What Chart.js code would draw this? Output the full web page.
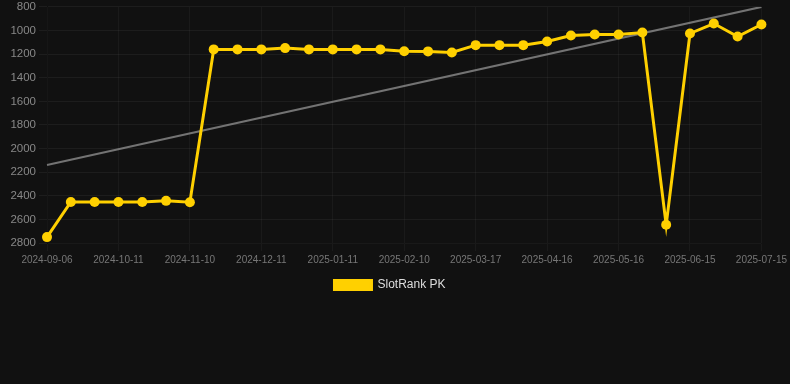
<!DOCTYPE html>
<html>
<head>
<meta charset="utf-8">
<script src="https://cdn.jsdelivr.net/npm/chart.js@4/dist/chart.umd.min.js"></script>
<style>
  html, body { margin: 0; padding: 0; background: #111111; overflow: hidden; }
  #wrap { width: 790px; height: 304px; position: relative; margin-top: -3px; }
</style>
</head>
<body>
<div id="wrap"><canvas id="chart"></canvas></div>
<script>
const dates = [
  "2024-09-06", "2024-09-18", "2024-09-30", "2024-10-11", "2024-10-21", "2024-10-31",
  "2024-11-10", "2024-11-20", "2024-12-01", "2024-12-11", "2024-12-21", "2025-01-01",
  "2025-01-11", "2025-01-21", "2025-01-31", "2025-02-10", "2025-02-22", "2025-03-06",
  "2025-03-17", "2025-03-27", "2025-04-06", "2025-04-16", "2025-04-26", "2025-05-06",
  "2025-05-16", "2025-05-26", "2025-06-05", "2025-06-15", "2025-06-25", "2025-07-05",
  "2025-07-15"
];

const rankPK = [
  2750, 2452, 2452, 2452, 2452, 2443, 2455, 1160, 1160, 1160, 1149, 1160,
  1160, 1160, 1160, 1175, 1177, 1186, 1124, 1124, 1124, 1093, 1042, 1034,
  1034, 1017, 2646, 1025, 941, 1051, 949
];

// trend line end points
const trendStart = 2140;
const trendEnd = 800;
const trend = dates.map((d, i) => i === 0 ? trendStart : (i === dates.length - 1 ? trendEnd : null));

Chart.defaults.font.family = "Arial, 'Liberation Sans', sans-serif";
Chart.defaults.color = "#888";

new Chart(document.getElementById("chart"), {
  type: "line",
  data: {
    labels: dates,
    datasets: [
      {
        label: "SlotRank PK",
        data: rankPK,
        borderColor: "#FFD000",
        backgroundColor: "#FFD000",
        borderWidth: 3,
        pointRadius: 5,
        pointHoverRadius: 6,
        pointBackgroundColor: "#FFD000",
        pointBorderWidth: 0,
        tension: 0
      },
      {
        label: "trend",
        data: trend,
        spanGaps: true,
        borderColor: "rgba(140,140,140,0.8)",
        borderWidth: 2,
        pointRadius: 0,
        fill: false
      }
    ]
  },
  options: {
    responsive: true,
    maintainAspectRatio: false,
    animation: false,
    layout: { padding: { left: 0, right: 10 } },
    scales: {
      x: {
        grid: { color: "rgba(255,255,255,0.04)" },
        ticks: {
          autoSkip: false,
          maxRotation: 0,
          font: { size: 10 },
          color: "#777",
          callback: function(v, i) { return i % 3 === 0 ? this.getLabelForValue(v) : null; }
        }
      },
      y: {
        reverse: true,
        min: 800,
        max: 2800,
        grid: { color: "rgba(255,255,255,0.05)" },
        afterFit: s => { s.width = 47; },
        ticks: { stepSize: 200, font: { size: 11.5 }, color: "#888", callback: v => String(v) }
      }
    },
    plugins: {
      legend: {
        position: "bottom",
        labels: {
          color: "#ddd",
          font: { size: 12 },
          boxWidth: 37,
          boxHeight: 9,
          filter: item => item.text !== "trend"
        }
      },
      tooltip: { enabled: false }
    }
  }
});
</script>
</body>
</html>
